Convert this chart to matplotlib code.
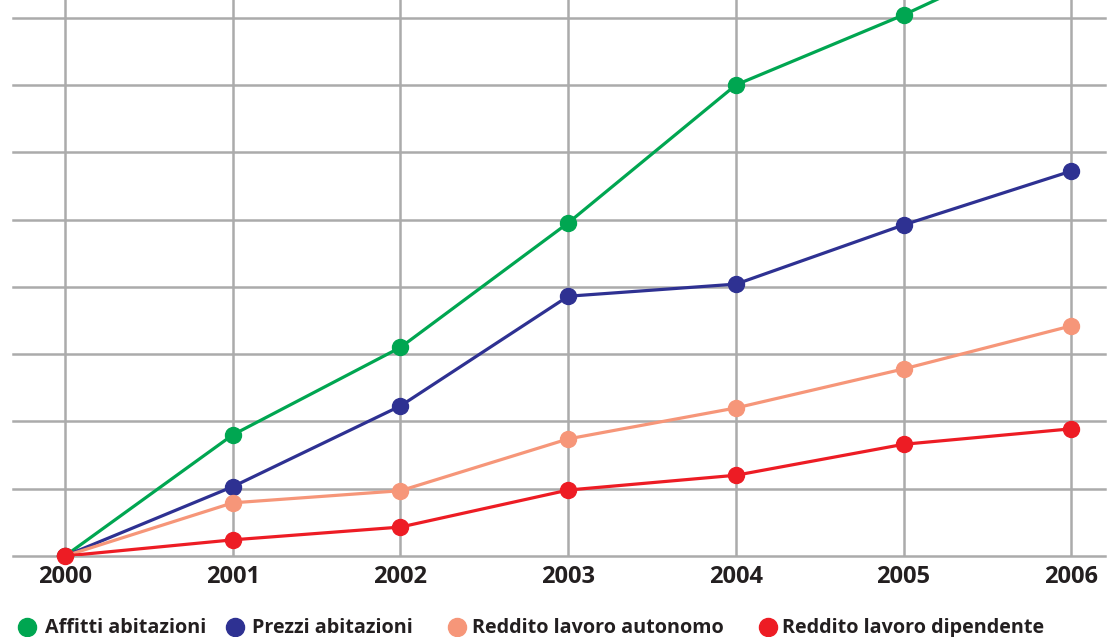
import numpy as np
import matplotlib.pyplot as plt
from matplotlib.lines import Line2D

# data (percent growth since 2000)
years = [2000, 2001, 2002, 2003, 2004, 2005, 2006]
affitti = [0, 9.0, 15.5, 24.75, 35.0, 40.2, 46.0]
prezzi = [0, 5.15, 11.15, 19.3, 20.2, 24.6, 28.6]
autonomo = [0, 3.95, 4.85, 8.7, 11.0, 13.9, 17.1]
dipendente = [0, 1.2, 2.15, 4.9, 6.0, 8.3, 9.45]

names = ['Affitti abitazioni', 'Prezzi abitazioni',
         'Reddito lavoro autonomo', 'Reddito lavoro dipendente']
colors = ['#00a651', '#2e3192', '#f69679', '#ed1c24']
series = [affitti, prezzi, autonomo, dipendente]

W, H = 1109, 637
fig = plt.figure(figsize=(W/100, H/100), dpi=100)
# axes: left 13px, right 1105px, bottom at y=556, top at y=0
ax = fig.add_axes([13/W, (H-556)/H, (1105-13)/W, 556/H])
ax.set_xlim(1999.69, 2006.2)
ax.set_ylim(0, 556/67.3*5)

for y in np.arange(0, 45, 5):
    ax.axhline(y, color='#ababab', lw=1.8, zorder=0, clip_on=False)
for x in years:
    ax.axvline(x, color='#ababab', lw=1.8, zorder=0)

for s, c in zip(series, colors):
    ax.plot(years, s, color=c, lw=2.3, marker='o', ms=11.5, clip_on=True, zorder=3)
# marker on the baseline: redraw 2000 point unclipped
ax.plot([2000], [0], 'o', color=colors[3], ms=11.5, clip_on=False, zorder=4)

for sp in ax.spines.values():
    sp.set_visible(False)
ax.set_xticks([])
ax.set_yticks([])

for x in years:
    px = 65 + (x - 2000) * (1071 - 65) / 6
    fig.text(px/W, 1 - 577/H, str(x), ha='center', va='center',
             fontsize=17, fontweight='bold', color='#231f20',
             family=['Open Sans', 'DejaVu Sans'])

# legend
leg_dot = [27, 235, 457, 768]
leg_txt = [45, 252, 472, 782]
for d, t, n, c in zip(leg_dot, leg_txt, names, colors):
    fig.add_artist(Line2D([d/W], [1 - 627/H], marker='o', ms=13, color=c,
                          transform=fig.transFigure))
    fig.text(t/W, 1 - 628/H, n, ha='left', va='center', fontsize=14.2,
             fontweight='bold', color='#231f20',
             family=['Open Sans', 'DejaVu Sans'])

fig.savefig('out.png', dpi=100)
